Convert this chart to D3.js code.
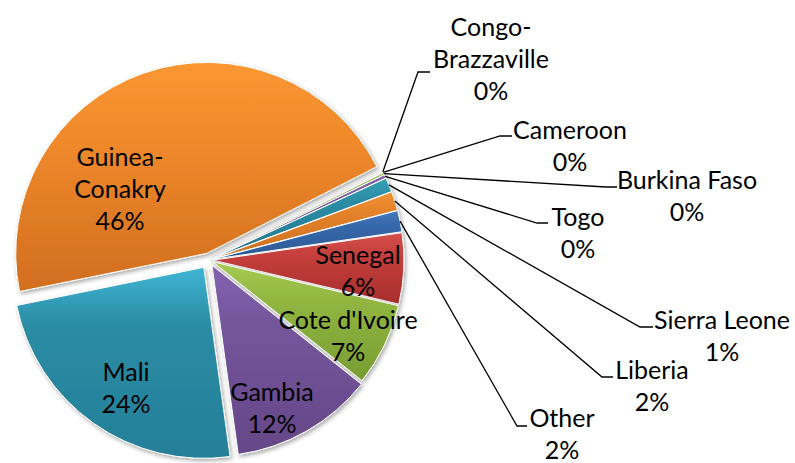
<!DOCTYPE html>
<html>
<head>
<meta charset="utf-8">
<script src="https://cdn.jsdelivr.net/npm/d3@7"></script>
<style>
  body { margin: 0; background: #fff; }
  text { font-family: Lato, "Open Sans", sans-serif; font-size: 25px; fill: #000; }
</style>
</head>
<body>
<div id="chart"></div>
<script>
// data, in clockwise order starting just after Guinea-Conakry
var countries = ["Congo-Brazzaville", "Cameroon", "Burkina Faso", "Togo", "Sierra Leone", "Liberia",
                 "Other", "Senegal", "Cote d'Ivoire", "Gambia", "Mali", "Guinea-Conakry"];
var shares = [0.05, 0.05, 0.2, 0.3, 1.2, 1.6, 1.8, 6.0, 7.0, 12.1, 24.0, 45.7];
var labelLines = [["Congo-", "Brazzaville"], ["Cameroon"], ["Burkina Faso"], ["Togo"], ["Sierra Leone"], ["Liberia"],
                  ["Other"], ["Senegal"], ["Cote d'Ivoire"], ["Gambia"], ["Mali"], ["Guinea-", "Conakry"]];

// styling: [light, base, dark] per slice
var colors = [
  ["#5b8dca", "#4f81bd", "#406ca3"],
  ["#cc5c59", "#c0504d", "#a53f3c"],
  ["#a6c764", "#9bbb59", "#84a246"],
  ["#8668b0", "#7a5aa6", "#664a8e"],
  ["#35a0b8", "#2b8ca4", "#23788f"],
  ["#f09234", "#e5822a", "#cc6f1f"],
  ["#4479bb", "#3668ab", "#2c5993"],
  ["#d6504d", "#c63f3c", "#a62f2d"],
  ["#a6cb52", "#93b742", "#789c31"],
  ["#8264b0", "#74569d", "#654787"],
  ["#3fb5d5", "#2b8ca5", "#257f98"],
  ["#fb9733", "#f18b2c", "#d16e1f"]
];

var width = 795, height = 463;
var cx = 209, cy = 260, radius = 191;
var lineH = 32;

// explode distance per slice
var explode = {"Mali": 9, "Guinea-Conakry": 7, "Gambia": 6};
var defaultExplode = 4;

// label anchors (center of first line); leader = elbow and end of short tick
var labelPos = {
  "Congo-Brazzaville": {x: 491, y: 27, elbow: [418, 72], tick: 430},
  "Cameroon": {x: 570, y: 130, elbow: [500, 136], tick: 512},
  "Burkina Faso": {x: 687, y: 180, elbow: [606, 187], tick: 617},
  "Togo": {x: 578, y: 217, elbow: [537, 223], tick: 548},
  "Sierra Leone": {x: 722, y: 320, elbow: [640, 327], tick: 653},
  "Liberia": {x: 652, y: 370, elbow: [602, 377], tick: 613},
  "Other": {x: 562, y: 418, elbow: [517, 426], tick: 527},
  "Senegal": {x: 358, y: 255},
  "Cote d'Ivoire": {x: 348, y: 320},
  "Gambia": {x: 272, y: 392},
  "Mali": {x: 126, y: 372},
  "Guinea-Conakry": {x: 120, y: 157}
};

var data = countries.map(function(c, i) {
  return {name: c, value: shares[i], lines: labelLines[i], color: colors[i], idx: i};
});
var total = d3.sum(shares);

var svg = d3.select("#chart")
  .append("svg")
  .attr("width", width)
  .attr("height", height);

var defs = svg.append("defs");

var shadow = defs.append("filter")
  .attr("id", "shadow")
  .attr("x", "-10%").attr("y", "-10%")
  .attr("width", "130%").attr("height", "130%");
shadow.append("feDropShadow")
  .attr("dx", 1.5).attr("dy", 2)
  .attr("stdDeviation", 2)
  .attr("flood-color", "#000")
  .attr("flood-opacity", 0.35);

data.forEach(function(d) {
  var g = defs.append("linearGradient")
    .attr("id", "grad" + d.idx)
    .attr("x1", 0).attr("y1", 0).attr("x2", 0).attr("y2", 1);
  g.append("stop").attr("offset", "0%").attr("stop-color", d.color[0]);
  g.append("stop").attr("offset", "30%").attr("stop-color", d.color[1]);
  g.append("stop").attr("offset", "100%").attr("stop-color", d.color[2]);
});

var pie = d3.pie()
  .sort(null)
  .value(function(d) { return d.value; })
  .startAngle(63 * Math.PI / 180)
  .endAngle(63 * Math.PI / 180 + 2 * Math.PI);

var arcs = pie(data);

var arc = d3.arc()
  .innerRadius(0)
  .outerRadius(radius);

function offset(d) {
  var e = explode[d.data.name] !== undefined ? explode[d.data.name] : defaultExplode;
  var a = (d.startAngle + d.endAngle) / 2;
  return [e * Math.sin(a), -e * Math.cos(a)];
}

var slices = svg.append("g")
  .attr("transform", `translate(${cx},${cy})`);

slices.selectAll("path")
  .data(arcs)
  .enter()
  .append("path")
    .attr("transform", function(d) { var o = offset(d); return `translate(${o[0]},${o[1]})`; })
    .attr("d", arc)
    .attr("fill", function(d) { return "url(#grad" + d.data.idx + ")"; })
    .attr("stroke", "#fff")
    .attr("stroke-width", 1)
    .attr("filter", "url(#shadow)");

// leader lines for outside labels
var outside = arcs.filter(function(d) { return labelPos[d.data.name].elbow; });

svg.append("g")
  .selectAll("polyline")
  .data(outside)
  .enter()
  .append("polyline")
    .attr("points", function(d) {
      var o = offset(d);
      var a = (d.startAngle + d.endAngle) / 2;
      var sx = cx + o[0] + radius * Math.sin(a);
      var sy = cy + o[1] - radius * Math.cos(a);
      var p = labelPos[d.data.name];
      return [[sx, sy], p.elbow, [p.tick, p.elbow[1]]].map(function(q) { return q.join(","); }).join(" ");
    })
    .attr("fill", "none")
    .attr("stroke", "#000")
    .attr("stroke-width", 1.3);

// labels
var labels = svg.append("g")
  .selectAll("text")
  .data(arcs)
  .enter()
  .append("text")
    .attr("text-anchor", "middle")
    .attr("x", function(d) { return labelPos[d.data.name].x; })
    .attr("y", function(d) { return labelPos[d.data.name].y; });

labels.each(function(d) {
  var t = d3.select(this);
  var p = labelPos[d.data.name];
  var lines = d.data.lines.concat([Math.round(d.data.value / total * 100) + "%"]);
  lines.forEach(function(l, i) {
    t.append("tspan")
      .attr("x", p.x)
      .attr("y", p.y + i * lineH)
      .attr("dy", "0.35em")
      .text(l);
  });
});
</script>
</body>
</html>
